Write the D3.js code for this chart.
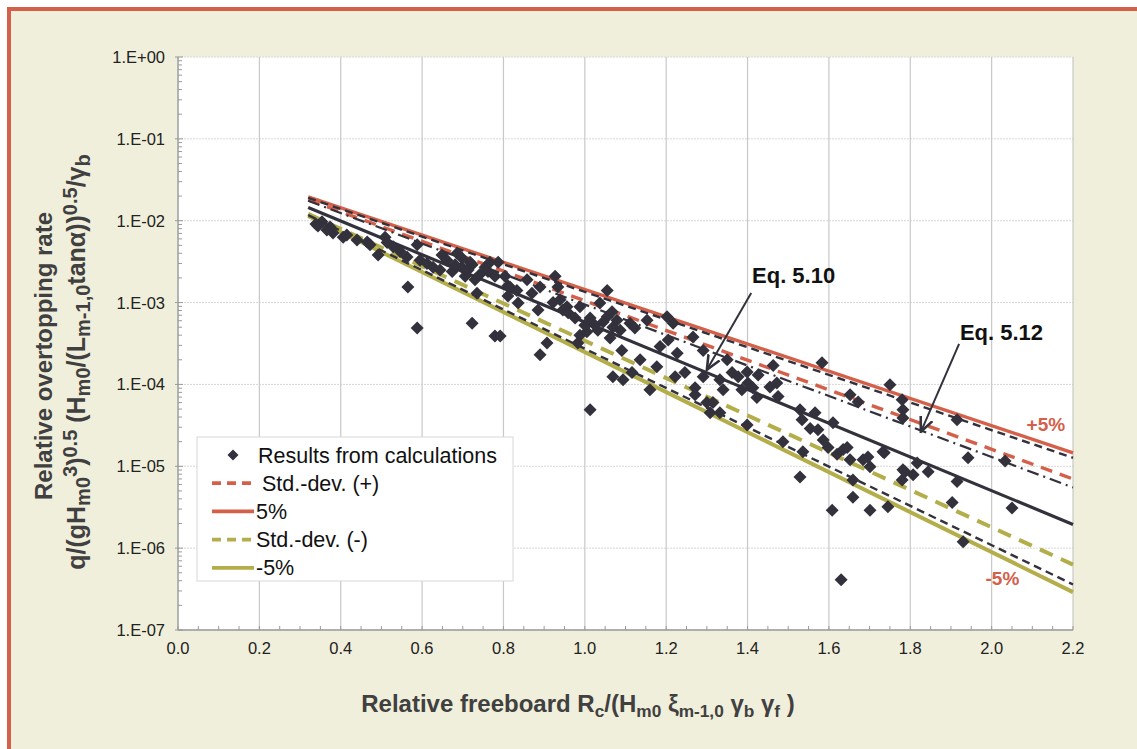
<!DOCTYPE html>
<html><head><meta charset="utf-8">
<script src="https://cdn.jsdelivr.net/npm/d3@7"></script>
<style>body{margin:0;background:#fff;}svg{display:block;font-family:"Liberation Sans",Arial,sans-serif;}</style>
</head><body>
<svg id="c" width="1137" height="749"></svg>
<script>
// ---------- data ----------
const xTickValues = [0.0,0.2,0.4,0.6,0.8,1.0,1.2,1.4,1.6,1.8,2.0,2.2];
const xTickLabels = ["0.0","0.2","0.4","0.6","0.8","1.0","1.2","1.4","1.6","1.8","2.0","2.2"];
const yTickValues = [1,1e-1,1e-2,1e-3,1e-4,1e-5,1e-6,1e-7];
const yTickLabels = ["1.E+00","1.E-01","1.E-02","1.E-03","1.E-04","1.E-05","1.E-06","1.E-07"];

const resultsX = [0.339,0.354,0.374,0.381,0.406,0.415,0.440,0.465,0.472,0.492,0.509,0.514,0.529,0.546,0.563,0.565,0.588,0.588,0.595,0.612,
0.627,0.649,0.661,0.674,0.686,0.698,0.706,0.713,0.723,0.730,0.723,0.735,0.762,0.779,0.779,0.792,0.787,0.811,0.811,0.698,
0.718,0.742,0.755,0.767,0.681,0.644,0.344,0.366,0.927,0.934,0.804,0.816,0.833,0.836,0.858,0.870,0.885,0.890,0.907,0.890,
0.922,0.939,0.946,0.956,0.959,0.988,0.988,0.983,1.005,1.008,1.013,1.037,1.055,1.055,1.062,1.069,1.079,1.069,1.091,1.094,
1.111,1.116,1.123,1.136,1.153,1.160,1.177,1.185,1.202,1.205,1.217,1.222,1.227,1.246,1.266,1.271,1.291,1.300,1.308,1.315,
1.013,1.025,1.032,1.045,1.067,1.087,1.000,0.976,1.291,1.271,1.332,1.332,1.340,1.350,1.362,1.377,1.386,1.399,1.401,1.413,
1.423,1.426,1.455,1.463,1.472,1.475,1.399,1.487,1.529,1.534,1.536,1.529,1.554,1.566,1.573,1.583,1.586,1.598,1.610,1.620,
1.635,1.645,1.652,1.659,1.659,1.608,1.684,1.696,1.701,1.701,1.733,1.745,1.750,1.652,1.672,1.782,1.780,1.782,1.782,1.780,
1.915,1.736,1.817,1.787,1.807,1.844,1.915,1.903,1.942,2.033,2.050,1.930,1.630];
const resultsY = [9.1e-3,9.7e-3,8.4e-3,7.1e-3,6.3e-3,6.7e-3,5.8e-3,5.5e-3,5.1e-3,3.8e-3,6.3e-3,5.4e-3,4.8e-3,4.2e-3,3.6e-3,1.55e-3,4.9e-4,5.1e-3,3.3e-3,3.0e-3,
2.7e-3,3.8e-3,3.3e-3,2.4e-3,4.0e-3,2.7e-3,2.1e-3,2.5e-3,2.9e-3,1.9e-3,5.6e-4,1.3e-3,2.4e-3,2.1e-3,3.9e-4,3.9e-4,3.1e-3,1.6e-3,1.2e-3,3.5e-3,
3.1e-3,2.2e-3,2.7e-3,3.1e-3,2.9e-3,2.5e-3,8.6e-3,7.7e-3,2.1e-3,1.55e-3,2.1e-3,1.55e-3,1.4e-3,9.9e-4,1.9e-3,1.3e-3,8.1e-4,1.55e-3,3.2e-4,2.3e-4,
1.0e-3,1.08e-3,8.1e-4,8.9e-4,7.5e-4,8.9e-4,4.0e-4,3.2e-4,4.4e-4,5.6e-4,4.9e-5,9.9e-4,1.4e-3,6.7e-4,3.7e-4,5.0e-4,6.1e-4,1.24e-4,2.6e-4,1.14e-4,
5.6e-4,1.4e-4,4.9e-4,2.0e-4,6.1e-4,8.6e-5,1.64e-4,2.9e-4,6.7e-4,3.5e-4,5.6e-4,1.24e-4,2.4e-4,1.4e-4,3.8e-4,9.1e-5,1.24e-4,6.0e-5,4.5e-5,6.0e-5,
6.5e-4,5.3e-4,4.6e-4,5.8e-4,7.7e-4,4.6e-4,5.3e-4,6.5e-4,2.6e-4,7.5e-5,4.5e-5,1.14e-4,8.6e-5,2.0e-4,1.4e-4,1.24e-4,8.6e-5,1.42e-4,1.04e-4,9.1e-5,
6.9e-5,1.3e-4,9.3e-5,1.7e-4,1.04e-4,7.1e-5,3.2e-5,2.0e-5,4.9e-5,3.7e-5,1.5e-5,7.4e-6,2.9e-5,4.5e-5,2.8e-5,1.84e-4,2.1e-5,1.7e-5,3.4e-5,1.4e-5,
1.6e-5,1.7e-5,1.2e-5,6.8e-6,4.2e-6,2.9e-6,1.2e-5,1.3e-5,9.9e-6,2.9e-6,1.5e-5,3.2e-6,9.9e-5,7.5e-5,6.1e-5,9.1e-6,6.8e-6,4.9e-5,3.9e-5,6.5e-5,
3.7e-5,1.46e-5,1.1e-5,8.6e-6,7.9e-6,8.6e-6,6.5e-6,3.6e-6,1.27e-5,1.16e-5,3.1e-6,1.2e-6,4.1e-7];

// reference lines: value at start and end of the fitted range
const lineX = [0.32, 2.2];
const plus5 = [1.95e-2, 1.46e-5];
const plus5Eq512 = [1.90e-2, 1.27e-5];
const stdPlus = [1.80e-2, 7.0e-6];
const eq512 = [1.75e-2, 5.5e-6];
const eq510 = [1.45e-2, 1.95e-6];
const stdMinus = [1.21e-2, 6.3e-7];
const minus5 = [1.14e-2, 2.9e-7];
const minus5Eq512 = [1.17e-2, 3.6e-7];

const legendLabels = ["Results from calculations"," Std.-dev. (+)","5%","Std.-dev. (-)","-5%"];

// annotations (data coordinates)
const annEq510 = {text:"Eq. 5.10", x:1.411, y:1.74e-3, x1:1.409, y1:1.31e-3, x2:1.300, y2:1.51e-4};
const annEq512 = {text:"Eq. 5.12", x:1.922, y:3.5e-4, x1:1.920, y1:3.13e-4, x2:1.826, y2:2.64e-5};
const annPlus = {text:"+5%", x:2.086, y:2.71e-5};
const annMinus = {text:"-5%", x:1.985, y:3.57e-7};

// ---------- drawing ----------
const svg = d3.select("#c");
const RED = "#d4604a", OLIVE = "#b3ad4a", DARK = "#33313c";
svg.append("rect").attr("x",9).attr("y",9).attr("width",1160).attr("height",780)
  .attr("fill","#f0efdb").attr("stroke",RED).attr("stroke-width",4);

const L = 178, R = 1073, T = 57, B = 630;
const x = d3.scaleLinear().domain([0,2.2]).range([L,R]);
const y = d3.scaleLog().domain([1e-7,1]).range([B,T]);

svg.append("rect").attr("x",L).attr("y",T).attr("width",R-L).attr("height",B-T).attr("fill","#fff");

// horizontal grid (decades)
svg.append("g").selectAll("line").data(yTickValues).join("line")
  .attr("x1",L).attr("x2",R).attr("y1",d=>y(d)).attr("y2",d=>y(d))
  .attr("stroke","#d8d8d8").attr("stroke-width",1).attr("stroke-dasharray","2,1");
// vertical grid
svg.append("g").selectAll("line").data(xTickValues).join("line")
  .attr("x1",d=>x(d)).attr("x2",d=>x(d)).attr("y1",T).attr("y2",B)
  .attr("stroke","#c8c8c8").attr("stroke-width",1.2);

// axes
const axisCol = "#9a9a9a";
svg.append("line").attr("x1",L).attr("x2",L).attr("y1",T).attr("y2",B).attr("stroke",axisCol).attr("stroke-width",1.2);
svg.append("line").attr("x1",L).attr("x2",R).attr("y1",B).attr("y2",B).attr("stroke",axisCol).attr("stroke-width",1.5);
const yMinor = [];
yTickValues.slice(1).forEach(d=>{ for(let k=2;k<=9;k++) yMinor.push(d*k); });
svg.append("g").selectAll("line").data(yMinor).join("line")
  .attr("x1",L).attr("x2",L+4).attr("y1",d=>y(d)).attr("y2",d=>y(d)).attr("stroke",axisCol);
svg.append("g").selectAll("line").data(yTickValues).join("line")
  .attr("x1",L-3).attr("x2",L+5).attr("y1",d=>y(d)).attr("y2",d=>y(d)).attr("stroke",axisCol);
const xMinor = d3.range(0,45).map(i=>i*0.05).filter(v=>v<=2.2);
svg.append("g").selectAll("line").data(xMinor).join("line")
  .attr("x1",d=>x(d)).attr("x2",d=>x(d)).attr("y1",B).attr("y2",B-4).attr("stroke",axisCol);

// tick labels
svg.append("g").selectAll("text").data(yTickValues).join("text")
  .attr("x",L-13).attr("y",d=>y(d)+6).attr("text-anchor","end")
  .attr("font-size",16.5).attr("fill","#222").text((d,i)=>yTickLabels[i]);
svg.append("g").selectAll("text").data(xTickValues).join("text")
  .attr("x",d=>x(d)).attr("y",B+24).attr("text-anchor","middle")
  .attr("font-size",16.5).attr("fill","#222").text((d,i)=>xTickLabels[i]);

// reference lines
function drawLine(vals, color, width, dash){
  const pts = lineX.map((xv,i)=>[x(xv), y(vals[i])]);
  svg.append("path").attr("d", d3.line()(pts)).attr("fill","none")
    .attr("stroke",color).attr("stroke-width",width)
    .attr("stroke-dasharray",dash||null);
}
drawLine(plus5, RED, 3.4);
drawLine(stdPlus, RED, 3.4, "12,8");
drawLine(minus5, OLIVE, 4);
drawLine(stdMinus, OLIVE, 4, "14,9");
drawLine(plus5Eq512, DARK, 2.4, "8,5");
drawLine(eq512, DARK, 2.2, "12,5,2,5");
drawLine(minus5Eq512, DARK, 2.4, "8,5");
drawLine(eq510, DARK, 3.2);

// scatter
const diamond = "M0,-6.5L6.5,0L0,6.5L-6.5,0Z";
svg.append("g").selectAll("path").data(resultsX).join("path")
  .attr("d",diamond).attr("fill",DARK)
  .attr("transform",(d,i)=>`translate(${x(d)},${y(resultsY[i])})`);

// annotations
svg.append("defs").append("marker").attr("id","arr").attr("viewBox","0 0 10 10")
  .attr("refX",9).attr("refY",5).attr("markerWidth",8).attr("markerHeight",8).attr("orient","auto")
  .append("path").attr("d","M0,1L9,5L0,9").attr("fill","none").attr("stroke",DARK).attr("stroke-width",1.6);
[annEq510, annEq512].forEach(a=>{
  svg.append("line").attr("x1",x(a.x1)).attr("y1",y(a.y1)).attr("x2",x(a.x2)).attr("y2",y(a.y2))
    .attr("stroke",DARK).attr("stroke-width",2).attr("marker-end","url(#arr)");
  svg.append("text").attr("x",x(a.x)).attr("y",y(a.y)).attr("font-size",22).attr("font-weight","bold")
    .attr("fill","#111").text(a.text);
});
[annPlus, annMinus].forEach(a=>{
  svg.append("text").attr("x",x(a.x)).attr("y",y(a.y)).attr("font-size",19).attr("font-weight","bold")
    .attr("fill",RED).text(a.text);
});

// legend
const lg = svg.append("g");
lg.append("rect").attr("x",197).attr("y",437).attr("width",316).attr("height",144)
  .attr("fill","#fff").attr("stroke","#d8d8d8");
const rowY = i => 455 + i*28.2;
lg.append("path").attr("d","M0,-5.5L5.5,0L0,5.5L-5.5,0Z").attr("fill",DARK).attr("transform",`translate(233,${rowY(0)})`);
const legStyles = [null,[RED,"9,6"],[RED,null],[OLIVE,"9,6"],[OLIVE,null]];
legStyles.forEach((s,i)=>{
  if(!s) return;
  lg.append("line").attr("x1",212).attr("x2",254).attr("y1",rowY(i)).attr("y2",rowY(i))
    .attr("stroke",s[0]).attr("stroke-width",3.8).attr("stroke-dasharray",s[1]);
});
lg.selectAll("text").data(legendLabels).join("text")
  .attr("x",(d,i)=>i===0?258:256).attr("y",(d,i)=>rowY(i)+7.5).attr("font-size",21.5)
  .attr("fill","#111").attr("xml:space","preserve").text(d=>d);

// subscript/superscript helper
function seq(t, parts, subScale){
  let cur = 0;
  parts.forEach(([txt,mode])=>{
    const target = mode==="sub"?5:mode==="sup"?-8:0;
    const s = t.append("tspan").text(txt).attr("dy",target-cur);
    if(mode==="sub") s.attr("font-size",(subScale||0.72)+"em");
    if(mode==="sup") s.attr("font-size",(subScale||0.68)+"em");
    cur = target;
  });
}
// x axis title
const xt = svg.append("text").attr("x",578).attr("y",712).attr("text-anchor","middle")
  .attr("font-size",24).attr("font-weight","bold").attr("fill","#404040");
seq(xt, [["Relative freeboard R",""],["c","sub"],["/(H",""],["m0","sub"],[" ξ",""],["m-1,0","sub"],[" γ",""],["b","sub"],[" γ",""],["f","sub"],[" )",""]]);

// y axis titles
svg.append("text").attr("transform","translate(52,356) rotate(-90)").attr("text-anchor","middle")
  .attr("font-size",24).attr("font-weight","bold").attr("fill","#404040").text("Relative overtopping rate");
const yt2 = svg.append("text").attr("transform","translate(85,362) rotate(-90)").attr("text-anchor","middle")
  .attr("font-size",25).attr("font-weight","bold").attr("fill","#404040");
seq(yt2, [["q/(gH",""],["m0","sub"],["3","sup"],[")",""],["0.5","sup"],[" (H",""],["m0","sub"],["/(L",""],["m-1,0","sub"],["tanα))",""],["0.5","sup"],["/γ",""],["b","sub"]], 0.8);
</script>
</body></html>
